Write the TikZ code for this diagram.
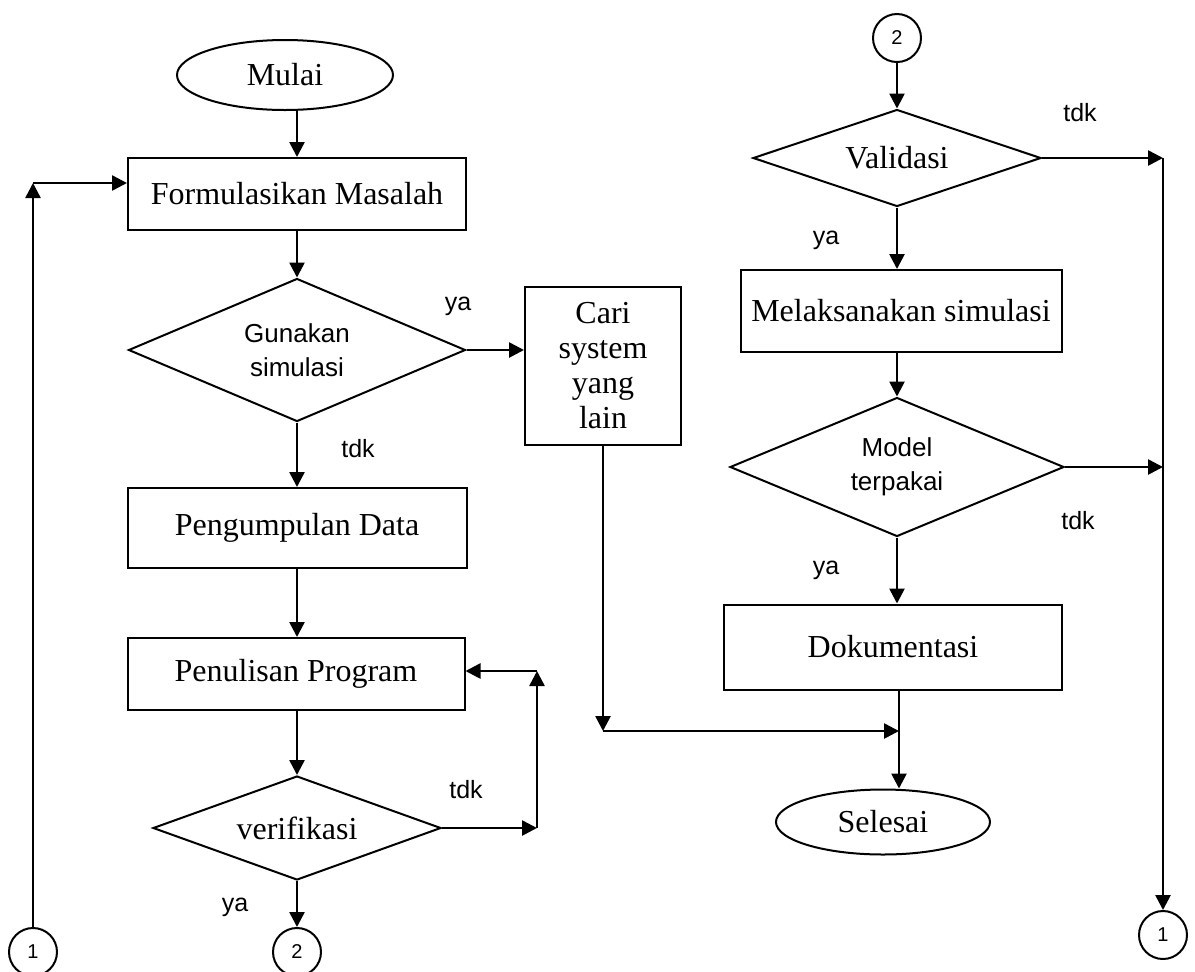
\documentclass[tikz,border=0pt]{standalone}
\usepackage{fontspec}
\setmainfont{Liberation Serif}
\newfontfamily\arial{Liberation Sans}
\usetikzlibrary{shapes.geometric,arrows.meta}
\tikzset{
  base/.style={draw=black,line width=1pt,inner sep=0pt,align=center},
  boxnode/.style={base,rectangle,font=\fontsize{16}{18}\selectfont},
  termnode/.style={base,ellipse,font=\fontsize{16}{18}\selectfont},
  decnode/.style={base,diamond,font=\fontsize{16}{18}\selectfont},
  decsans/.style={base,diamond,font=\arial\fontsize{13}{17}\selectfont},
  conn/.style={base,circle,minimum size=24pt,font=\arial\fontsize{10}{12}\selectfont},
  lbl/.style={font=\arial\fontsize{12.5}{14}\selectfont,inner sep=0pt},
  arr/.style={line width=1.3pt,-{Triangle[length=7.5pt,width=7.5pt]}}
}
\begin{document}
\begin{tikzpicture}[x=0.5pt,y=-0.5pt]
\useasboundingbox (0,0) rectangle (1195,971);
% left column
\node[termnode,minimum width=108pt,minimum height=35pt] (mulai) at (285,75) {Mulai};
\node[boxnode,minimum width=169pt,minimum height=36pt] (form) at (297,194) {Formulasikan Masalah};
\node[decsans,aspect=2.36,minimum width=168.5pt,minimum height=71.5pt] (guna) at (297,350) {Gunakan\\simulasi};
\node[boxnode,minimum width=78pt,minimum height=79pt,font=\fontsize{16}{17.5}\selectfont] (cari) at (603,366) {Cari\\system\\yang\\lain};
\node[boxnode,minimum width=169.5pt,minimum height=40pt] (kumpul) at (297,528) {Pengumpulan Data};
\node[boxnode,minimum width=168.5pt,minimum height=36pt] (tulis) at (296,674) {Penulisan Program};
\node[decnode,aspect=2.77,minimum width=144pt,minimum height=52pt] (verif) at (297,828) {verifikasi};
\node[conn] (cdua) at (297,952) {2};
\node[conn] (csatu) at (33,952) {1};
% right column
\node[conn] (cduaT) at (897,38) {2};
\node[decnode,aspect=2.97,minimum width=144pt,minimum height=48.5pt] (valid) at (897,158) {Validasi};
\node[boxnode,minimum width=160.5pt,minimum height=41pt] (laksana) at (901,311) {Melaksanakan simulasi};
\node[decsans,aspect=2.4,minimum width=167pt,minimum height=69.5pt] (model) at (897,467) {Model\\terpakai};
\node[boxnode,minimum width=169pt,minimum height=42.5pt] (doku) at (893,647) {Dokumentasi};
\node[termnode,minimum width=107pt,minimum height=32.5pt] (selesai) at (883,822) {Selesai};
\node[conn] (csatuR) at (1163,935) {1};
% helper coordinates
\coordinate (lsatu) at (33,183);
\coordinate (vsatu) at (537,828);
\coordinate (vdua) at (537,671);
\coordinate (ksatu) at (603,731);
\coordinate (kdua) at (899,731);
\coordinate (rsatu) at (1163,158);
\coordinate (rdua) at (1163,467);
% connectors left
\draw[arr] (mulai.south -| form.north) -- (form.north);
\draw[arr] (form.south) -- (guna.north);
\draw[arr] (guna.east) -- (guna.east -| cari.west);
\draw[arr] (guna.south) -- (guna.south |- kumpul.north);
\draw[arr] (kumpul.south) -- (kumpul.south |- tulis.north);
\draw[arr] (tulis.south -| verif.north) -- (verif.north);
\draw[arr] (verif.south) -- (cdua.north);
\draw[arr] (verif.east) -- (vsatu);
\draw[arr] (vsatu) -- (vdua);
\draw[arr] (vdua) -- (vdua -| tulis.east);
\draw[arr] (csatu.north) -- (lsatu);
\draw[arr] (lsatu) -- (lsatu -| form.west);
\draw[arr] (cari.south) -- (ksatu);
\draw[arr] (ksatu) -- (kdua);
% connectors right
\draw[arr] (cduaT.south) -- (valid.north);
\draw[arr] (valid.south) -- (valid.south |- laksana.north);
\draw[arr] (laksana.south -| model.north) -- (model.north);
\draw[arr] (model.south) -- (model.south |- doku.north);
\draw[arr] (doku.south -| kdua) -- (kdua |- selesai.north);
\draw[arr] (valid.east) -- (rsatu);
\draw[arr] (rsatu) -- (csatuR.north);
\draw[arr] (model.east) -- (rdua);
% labels
\node[lbl] (l1) at (458,306) {ya};
\node[lbl] (l2) at (358,449) {tdk};
\node[lbl] (l3) at (466,790) {tdk};
\node[lbl] (l4) at (235,907) {ya};
\node[lbl] (l5) at (1080,113) {tdk};
\node[lbl] (l6) at (826,240) {ya};
\node[lbl] (l7) at (1078,521) {tdk};
\node[lbl] (l8) at (826,570) {ya};
\end{tikzpicture}
\end{document}
